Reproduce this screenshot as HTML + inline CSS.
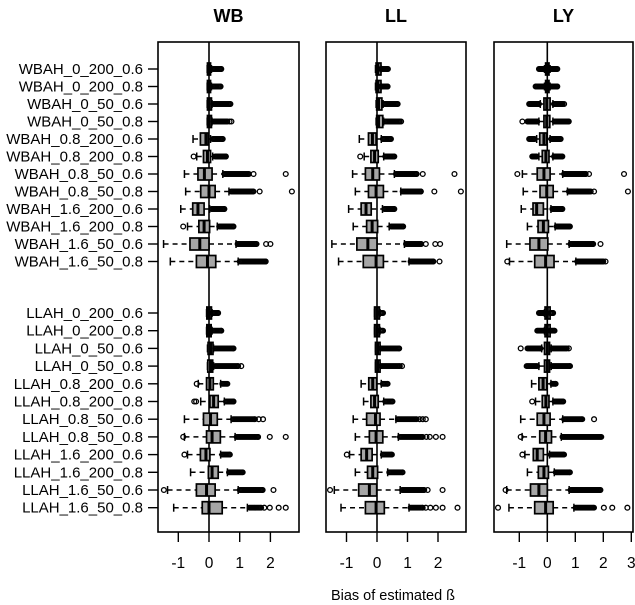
<!DOCTYPE html>
<html><head><meta charset="utf-8">
<style>
html,body{margin:0;padding:0;background:#fff;}
svg{display:block;font-family:"Liberation Sans",Arial,sans-serif;}
</style></head>
<body>
<svg id="chart" width="635" height="605" viewBox="0 0 635 605" xmlns="http://www.w3.org/2000/svg"></svg>
<script>
const rowLabels = ["WBAH_0_200_0.6","WBAH_0_200_0.8","WBAH_0_50_0.6","WBAH_0_50_0.8","WBAH_0.8_200_0.6","WBAH_0.8_200_0.8","WBAH_0.8_50_0.6","WBAH_0.8_50_0.8","WBAH_1.6_200_0.6","WBAH_1.6_200_0.8","WBAH_1.6_50_0.6","WBAH_1.6_50_0.8",
"LLAH_0_200_0.6","LLAH_0_200_0.8","LLAH_0_50_0.6","LLAH_0_50_0.8","LLAH_0.8_200_0.6","LLAH_0.8_200_0.8","LLAH_0.8_50_0.6","LLAH_0.8_50_0.8","LLAH_1.6_200_0.6","LLAH_1.6_200_0.8","LLAH_1.6_50_0.6","LLAH_1.6_50_0.8"];
const panelTitles = ["WB","LL","LY"];
const ticks12 = [-1,0,1,2];
const ticks123 = [-1,0,1,2,3];

// [lowWhisker, q1, median, q3, highWhisker]
const wbBoxes = [[-0.06,-0.05,0,0.05,0.08],[-0.06,-0.05,0,0.05,0.08],[-0.06,-0.05,0,0.08,0.1],[-0.06,-0.05,0,0.08,0.1],[-0.52,-0.28,-0.1,-0.02,0.05],[-0.4,-0.18,-0.05,0.05,0.12],[-0.8,-0.36,-0.15,0.1,0.45],[-0.76,-0.27,0,0.2,0.65],[-0.92,-0.53,-0.36,-0.16,0.02],[-0.7,-0.33,-0.16,0.02,0.27],[-1.48,-0.62,-0.3,0,0.88],[-1.26,-0.41,-0.05,0.22,0.95],
[-0.08,-0.07,0,0.08,0.1],[-0.08,-0.07,0,0.07,0.1],[-0.05,-0.03,0.05,0.13,0.15],[-0.05,-0.04,0.05,0.12,0.15],[-0.35,-0.08,0.03,0.14,0.38],[-0.27,0.03,0.15,0.3,0.5],[-0.8,-0.18,0.05,0.27,0.72],[-0.8,-0.08,0.1,0.37,0.85],[-0.7,-0.28,-0.1,0.03,0.38],[-0.6,-0.02,0.1,0.3,0.6],[-1.35,-0.41,-0.08,0.2,0.95],[-1.15,-0.22,0,0.43,1.25]];
const wbHiRuns = [[0.12,0.4],[0.12,0.38],[0.15,0.7],[0.15,0.6],[0.12,0.45],[0.2,0.55],[0.5,1.3],[0.72,1.45],[0.08,0.5],[0.33,0.8],[0.93,1.55],[1.0,1.85],
[0.12,0.3],[0.12,0.4],[0.2,0.8],[0.2,0.95],[0.43,0.6],[0.55,0.8],[0.78,1.5],[0.9,1.6],[0.43,0.68],[0.65,1.1],[1.0,1.75],[1.32,1.7]];
const wbLoRuns = [null,null,null,null,null,null,null,null,null,null,null,null,null,null,null,null,null,null,null,null,null,null,null,null];
const wbExtras = [[],[],[],[0.67,0.73],[],[-0.5],[1.45,2.5],[1.65,2.7],[],[-0.84],[1.86,2.0],[],
[],[],[],[1.05],[-0.4],[-0.42,-0.48],[1.62,1.76],[-0.84,1.98,2.5],[-0.8],[],[-1.47,2.1],[1.8,1.98,2.27,2.5]];

const llBoxes = [[-0.05,-0.03,0.03,0.13,0.13],[-0.05,-0.03,0.03,0.13,0.13],[-0.03,-0.01,0.05,0.16,0.2],[-0.03,-0.01,0.05,0.19,0.22],[-0.58,-0.28,-0.15,-0.03,0.14],[-0.42,-0.2,-0.08,0.04,0.22],[-0.8,-0.38,-0.14,0.08,0.57],[-0.71,-0.28,-0.03,0.21,0.78],[-0.93,-0.52,-0.36,-0.19,0.18],[-0.78,-0.34,-0.16,0.02,0.4],[-1.48,-0.66,-0.3,0,0.9],[-1.26,-0.45,-0.03,0.21,1.05],
[-0.08,-0.08,0,0.08,0.1],[-0.08,-0.08,0,0.08,0.1],[-0.05,-0.05,0.02,0.1,0.1],[-0.05,-0.05,0.02,0.1,0.1],[-0.52,-0.27,-0.14,-0.01,0.14],[-0.44,-0.2,-0.08,0.04,0.22],[-0.78,-0.34,-0.05,0.1,0.62],[-0.71,-0.25,-0.03,0.19,0.7],[-0.9,-0.52,-0.34,-0.16,0.14],[-0.71,-0.31,-0.14,0.02,0.35],[-1.4,-0.6,-0.25,-0.01,0.76],[-1.18,-0.38,-0.03,0.24,1.05]];
const llHiRuns = [[0.13,0.36],[0.13,0.35],[0.24,0.68],[0.27,0.75],[0.19,0.46],[0.27,0.57],[0.62,1.3],[0.84,1.44],[0.24,0.57],[0.46,0.86],[0.95,1.45],[1.1,1.85],
[0.1,0.2],[0.1,0.2],[0.13,0.73],[0.13,0.75],[0.19,0.35],[0.27,0.51],[0.68,1.3],[0.75,1.5],[0.19,0.49],[0.4,0.84],[0.82,1.55],[1.1,1.5]];
const llLoRuns = [null,null,null,null,null,null,null,null,null,null,null,null,null,null,null,null,null,null,null,null,null,null,null,null];
const llExtras = [[],[],[],[0.79],[],[-0.55],[1.5,2.54],[1.88,2.75],[],[],[1.6,1.91,2.07],[2.05],
[],[],[],[0.82],[],[],[1.4,1.5,1.6],[1.62,1.73,1.93,2.15],[-0.99],[],[-1.54,1.66,2.15],[1.6,1.75,1.93,2.15,2.64]];

const lyBoxes = [[-0.1,-0.06,0,0.06,0.1],[-0.1,-0.06,0,0.06,0.1],[-0.25,-0.12,-0.02,0.1,0.2],[-0.3,-0.12,-0.02,0.09,0.2],[-0.38,-0.27,-0.12,-0.02,0.1],[-0.3,-0.18,-0.05,0.06,0.2],[-0.89,-0.36,-0.12,0.1,0.55],[-0.86,-0.26,-0.02,0.21,0.72],[-0.93,-0.51,-0.38,-0.14,0.13],[-0.71,-0.33,-0.14,0.04,0.28],[-1.45,-0.62,-0.3,0.02,0.78],[-1.35,-0.45,-0.06,0.24,1.02],
[-0.1,-0.08,0,0.1,0.1],[-0.1,-0.08,0,0.1,0.1],[-0.2,-0.1,0,0.08,0.14],[-0.3,-0.1,0,0.08,0.14],[-0.56,-0.3,-0.15,-0.02,0.13],[-0.42,-0.18,-0.05,0.06,0.2],[-0.95,-0.36,-0.12,0.1,0.55],[-0.9,-0.27,-0.06,0.15,0.5],[-0.8,-0.5,-0.36,-0.14,0.08],[-0.71,-0.32,-0.12,0.04,0.25],[-1.45,-0.6,-0.3,0,0.78],[-1.37,-0.45,-0.06,0.21,0.95]];
const lyHiRuns = [[0.12,0.36],[0.14,0.36],[0.24,0.55],[0.26,0.77],[0.14,0.48],[0.24,0.54],[0.6,1.37],[0.77,1.5],[0.18,0.54],[0.33,0.81],[0.83,1.64],[1.07,2.0],
[0.1,0.21],[0.1,0.26],[0.18,0.7],[0.18,0.81],[0.18,0.3],[0.26,0.57],[0.6,1.25],[0.54,1.93],[0.12,0.6],[0.3,0.81],[0.83,1.9],[1.01,1.67]];
const lyLoRuns = [[-0.3,-0.12],[-0.42,-0.12],[-0.65,-0.3],[-0.71,-0.36],[-0.65,-0.45],[-0.54,-0.38],null,null,null,null,null,null,
[-0.3,-0.12],[-0.36,-0.12],[-0.71,-0.24],[-0.74,-0.36],null,null,null,null,null,null,null,null];
const lyExtras = [[],[],[0.6],[-0.89],[],[],[-1.07,1.49,2.74],[1.55,1.67,2.88],[],[],[1.9],[2.08,-1.43],
[],[],[-0.95,0.77],[],[],[-0.54],[1.67],[-0.95],[-0.89],[],[-1.49],[-1.76,2.02,2.32,2.86]];

const NS = "http://www.w3.org/2000/svg";
const svg = document.getElementById("chart");
function mk(tag, attrs, parent){
  const e = document.createElementNS(NS, tag);
  for (const k in attrs) e.setAttribute(k, attrs[k]);
  (parent||svg).appendChild(e);
  return e;
}
function rowY(i){ return i < 12 ? 69 + 17.5*i : 313 + 17.7*(i-12); }

const panelX = [[158,299],[326,466],[494,633]];
const panelZero = [209,377,547.3];
const panelScale = [30.7,30.5,28];
const panelTicks = [ticks12, ticks12, ticks123];
const panelBoxes = [wbBoxes, llBoxes, lyBoxes];
const panelHi = [wbHiRuns, llHiRuns, lyHiRuns];
const panelLo = [wbLoRuns, llLoRuns, lyLoRuns];
const panelEx = [wbExtras, llExtras, lyExtras];
const TOP = 42, BOT = 532;

rowLabels.forEach((lab, i) => {
  const y = rowY(i);
  const t = mk("line",{x1:148,x2:158,y1:y,y2:y,stroke:"#000","stroke-width":1.4});
  
  
  const tx = mk("text",{x:143,y:y+5,"text-anchor":"end","font-size":15,fill:"#000"});
  tx.textContent = lab;
  
  
});

for (let p = 0; p < 3; p++) {
  const g = mk("g",{});
  
  
  const [x0, x1] = panelX[p];
  const sx = v => panelZero[p] + v*panelScale[p];
  const title = mk("text",{x:(x0+x1)/2,y:22,"text-anchor":"middle","font-size":18,"font-weight":"bold"},g);
  title.textContent = panelTitles[p];
  
  
  const zl = mk("line",{x1:sx(0),x2:sx(0),y1:TOP,y2:BOT,stroke:"#000","stroke-width":1.6},g);
  
  
  panelBoxes[p].forEach((b, i) => {
    const y = rowY(i);
    const [lw,q1,md,q3,hw] = b;
    const rg = mk("g",{},g);
    
    
    mk("line",{x1:sx(lw),x2:sx(q1),y1:y,y2:y,stroke:"#000","stroke-width":1.5,"stroke-dasharray":"5,4"},rg);
    mk("line",{x1:sx(q3),x2:sx(hw),y1:y,y2:y,stroke:"#000","stroke-width":1.5,"stroke-dasharray":"5,4"},rg);
    mk("line",{x1:sx(lw),x2:sx(lw),y1:y-4,y2:y+4,stroke:"#000","stroke-width":1.5},rg);
    mk("line",{x1:sx(hw),x2:sx(hw),y1:y-4,y2:y+4,stroke:"#000","stroke-width":1.5},rg);
    mk("rect",{x:sx(q1),y:y-6,width:Math.max(sx(q3)-sx(q1),1),height:12,fill:"#a6a6a6",stroke:"#000","stroke-width":1.7},rg);
    mk("line",{x1:sx(md),x2:sx(md),y1:y-6,y2:y+6,stroke:"#000","stroke-width":3},rg);
    const runs = [panelHi[p][i], panelLo[p][i]];
    runs.forEach(r => {
      if (!r) return;
      for (let v = r[0]; v <= r[1] + 1e-6; v += 0.035) {
        mk("circle",{cx:sx(v),cy:y,r:2.3,fill:"none",stroke:"#000","stroke-width":1.3},rg);
      }
      mk("circle",{cx:sx(r[1]),cy:y,r:2.3,fill:"none",stroke:"#000","stroke-width":1.3},rg);
    });
    panelEx[p][i].forEach(v => {
      mk("circle",{cx:sx(v),cy:y,r:2.4,fill:"none",stroke:"#000","stroke-width":1.3},rg);
    });
  });
  const fr = mk("rect",{x:x0,y:TOP,width:x1-x0,height:BOT-TOP,fill:"none",stroke:"#000","stroke-width":1.6},g);
  
  
  panelTicks[p].forEach(t => {
    const tl = mk("line",{x1:sx(t),x2:sx(t),y1:BOT,y2:BOT+10,stroke:"#000","stroke-width":1.4},g);
    
    
    const tx = mk("text",{x:sx(t),y:BOT+36,"text-anchor":"middle","font-size":15.5},g);
    tx.textContent = t < 0 ? "-" + Math.abs(t) : String(t);
    
    
  });
}
const xl = mk("text",{x:393,y:600,"text-anchor":"middle","font-size":14.5});
xl.textContent = "Bias of estimated ß";


</script>
</body></html>
